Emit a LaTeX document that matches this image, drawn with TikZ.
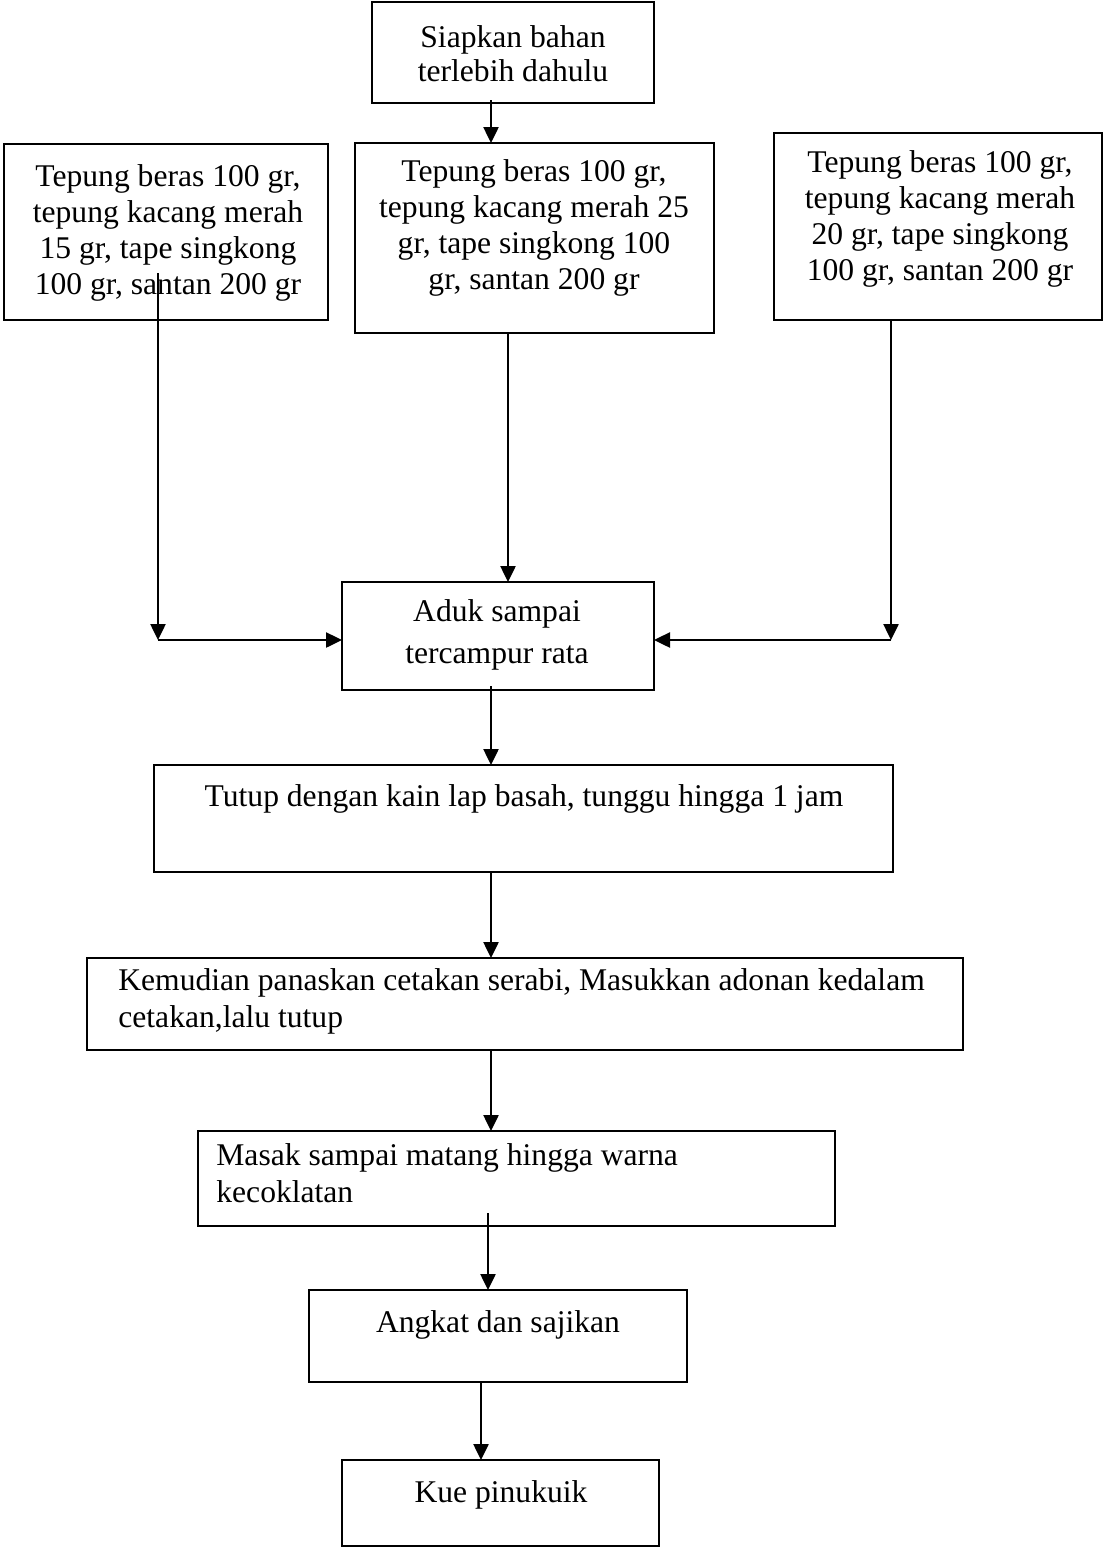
\documentclass[tikz,border=0pt]{standalone}
\usepackage{fontspec}
\setmainfont{Liberation Serif}
\usetikzlibrary{arrows.meta}
\newcommand{\mkbox}[5]{\node[box,minimum width={(#4-#2)*0.5pt},minimum height={(#5-#3)*0.5pt}] (#1) at (#2,#3) {};}
\begin{document}
\begin{tikzpicture}[x=0.5pt,y=-0.5pt,
  box/.style={draw,line width=1.1pt,inner sep=0pt,outer sep=0pt,anchor=north west},
  txt/.style={inner sep=0pt,font=\fontsize{15.8}{18}\selectfont,align=center,anchor=base},
  ltxt/.style={inner sep=0pt,font=\fontsize{15.8}{18.5}\selectfont,align=left,anchor=base west},
  conn/.style={line width=1.25pt,-{Triangle[length=8pt,width=7.5pt]}}]
\useasboundingbox (0,0) rectangle (1104,1547);
% boxes
\mkbox{siap}{372}{2}{654}{103}
\mkbox{lbox}{4}{144}{328}{320}
\mkbox{mbox}{355}{143}{714}{333}
\mkbox{rbox}{774}{133}{1102}{320}
\mkbox{aduk}{342}{582}{654}{690}
\mkbox{tutup}{154}{765}{893}{872}
\mkbox{kem}{87}{958}{963}{1050}
\mkbox{masak}{198}{1131}{835}{1226}
\mkbox{angkat}{309}{1290}{687}{1382}
\mkbox{kue}{342}{1460}{659}{1546}
% texts (base anchor = baseline of last line)
\node[txt,font=\fontsize{15.8}{17}\selectfont] (tsiap) at (513,81) {Siapkan bahan\\terlebih dahulu};
\node[txt] (tl) at (168,294) {Tepung beras 100 gr,\\tepung kacang merah\\15 gr, tape singkong\\100 gr, santan 200 gr};
\node[txt] (tm) at (534,289) {Tepung beras 100 gr,\\tepung kacang merah 25\\gr, tape singkong 100\\gr, santan 200 gr};
\node[txt] (tr) at (940,280) {Tepung beras 100 gr,\\tepung kacang merah\\20 gr, tape singkong\\100 gr, santan 200 gr};
\node[txt] (taduk) at (497,663) {Aduk sampai\\[3pt]tercampur rata};
\node[txt] (ttutup) at (524,806) {Tutup dengan kain lap basah, tunggu hingga 1 jam};
\node[ltxt] (tkem) at (118,1027) {Kemudian panaskan cetakan serabi, Masukkan adonan kedalam\\cetakan,lalu tutup};
\node[ltxt] (tmasak) at (216,1202) {Masak sampai matang hingga warna\\kecoklatan};
\node[txt] (tangkat) at (498,1332) {Angkat dan sajikan};
\node[txt] (tkue) at (501,1502) {Kue pinukuik};
% connector helper coordinates
\coordinate (c1) at (491,0);
\coordinate (lstart) at (158,273);
\coordinate (ljoin) at (158,640);
\coordinate (c2) at (508,0);
\coordinate (rjoin) at (891,640);
\coordinate (c3) at (491,0);
\coordinate (mstart) at (488,1213);
\coordinate (c4) at (481,0);
% connectors
\draw[conn] ([yshift=1.5pt]siap.south -| c1) -- (mbox.north -| c1);
\draw[conn] (lstart) -- (ljoin);
\draw[conn] (ljoin) -- (ljoin -| aduk.west);
\draw[conn] (mbox.south -| c2) -- (aduk.north -| c2);
\draw[conn] (rbox.south -| rjoin) -- (rjoin);
\draw[conn] (rjoin) -- (rjoin -| aduk.east);
\draw[conn] ([yshift=2pt]aduk.south -| c3) -- (tutup.north -| c3);
\draw[conn] (tutup.south -| c3) -- (kem.north -| c3);
\draw[conn] (kem.south -| c3) -- (masak.north -| c3);
\draw[conn] (mstart) -- (angkat.north -| mstart);
\draw[conn] (angkat.south -| c4) -- (kue.north -| c4);
\end{tikzpicture}
\end{document}
